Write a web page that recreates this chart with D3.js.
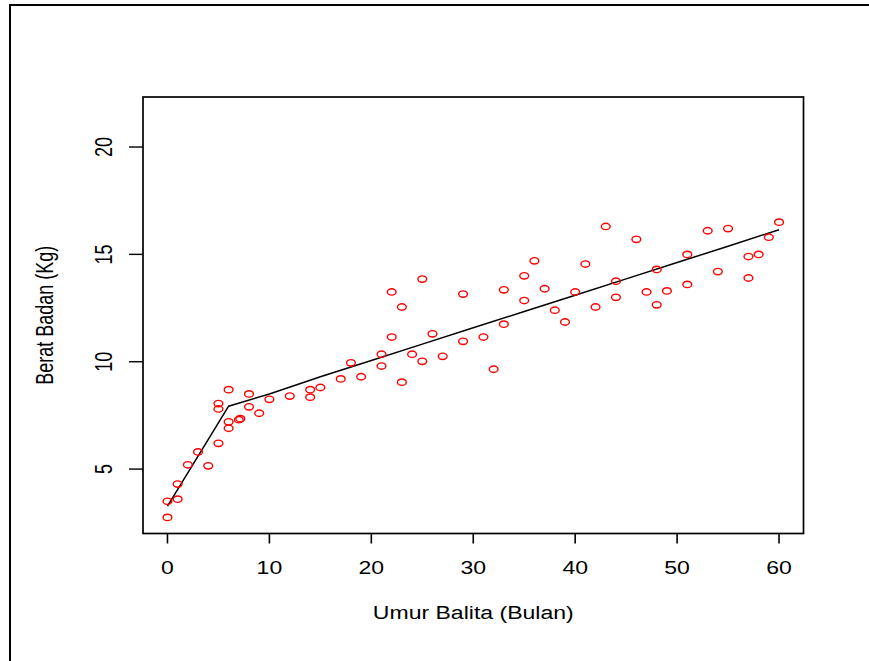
<!DOCTYPE html>
<html>
<head>
<meta charset="utf-8">
<script src="https://cdn.jsdelivr.net/npm/d3@7"></script>
<style>
  body { margin: 0; background: #fff; }
  text { font-family: "Liberation Sans", Arial, sans-serif; }
</style>
</head>
<body>
<div id="chart"></div>
<script>
// umur (bulan) dan berat badan (kg) tiap balita
var umur = [0, 0, 1, 1, 2, 3, 4, 5, 5, 5, 6, 6, 6, 7, 7.15, 8, 8, 9, 10, 12,
            14, 14, 15, 17, 18, 19, 21, 21, 22, 22, 23, 23, 24, 25, 25, 26, 27, 29, 29, 31,
            32, 33, 33, 35, 35, 36, 37, 38, 39, 40, 41, 42, 43, 44, 44, 46, 47, 48, 48, 49,
            51, 51, 53, 54, 55, 57, 57, 58, 59, 60];
var berat = [2.75, 3.5, 3.6, 4.3, 5.2, 5.8, 5.15, 6.2, 8.05, 7.8, 8.7, 7.2, 6.9, 7.3, 7.35, 8.5, 7.9, 7.6, 8.25, 8.4,
             8.7, 8.35, 8.8, 9.2, 9.95, 9.3, 10.35, 9.8, 13.25, 11.15, 12.55, 9.05, 10.35, 13.85, 10.02, 11.3, 10.25, 13.15, 10.95, 11.15,
             9.65, 13.35, 11.75, 14.0, 12.85, 14.7, 13.4, 12.4, 11.85, 13.25, 14.55, 12.55, 16.3, 13.75, 13.0, 15.7, 13.25, 14.3, 12.65, 13.3,
             15.0, 13.6, 16.1, 14.2, 16.2, 14.9, 13.9, 15.0, 15.8, 16.5];

// garis pemulusan
var garisX = [0, 6, 10, 15, 20, 25, 30, 35, 40, 45, 50, 55, 60];
var garisY = [3.28, 7.93, 8.5, 9.3, 10.06, 10.82, 11.58, 12.34, 13.1, 13.86, 14.62, 15.38, 16.15];

var xTicks = [0, 10, 20, 30, 40, 50, 60];
var yTicks = [5, 10, 15, 20];

var w = 869, h = 661;
var box = { left: 143, right: 803.5, top: 97, bottom: 533.5 };
var sx = 1.28;  // gambar asli melebar ke samping

var svg = d3.select("#chart").append("svg")
    .attr("width", w)
    .attr("height", h);

// bingkai luar
svg.append("path")
    .attr("d", "M10,661 L10,5 L869,5")
    .attr("fill", "none")
    .attr("stroke", "#000")
    .attr("stroke-width", 2);

var xScale = d3.scaleLinear().domain([-2.4, 62.4]).range([box.left, box.right]);
var yScale = d3.scaleLinear().domain([2.0, 22.33]).range([box.bottom, box.top]);

// kotak plot
svg.append("rect")
    .attr("x", box.left)
    .attr("y", box.top)
    .attr("width", box.right - box.left)
    .attr("height", box.bottom - box.top)
    .attr("fill", "none")
    .attr("stroke", "#000")
    .attr("stroke-width", 1.7);

// sumbu x
svg.selectAll("line.xt").data(xTicks).enter().append("line")
    .attr("class", "xt")
    .attr("x1", function(d) { return xScale(d); })
    .attr("x2", function(d) { return xScale(d); })
    .attr("y1", box.bottom)
    .attr("y2", box.bottom + 10)
    .attr("stroke", "#000")
    .attr("stroke-width", 1.6);

svg.selectAll("text.xl").data(xTicks).enter().append("text")
    .attr("class", "xl")
    .attr("transform", function(d) { return "translate(" + xScale(d) + ",574) scale(" + sx + ",1)"; })
    .attr("text-anchor", "middle")
    .attr("font-size", 18)
    .text(function(d) { return d; });

// sumbu y
svg.selectAll("line.yt").data(yTicks).enter().append("line")
    .attr("class", "yt")
    .attr("x1", box.left)
    .attr("x2", box.left - 14)
    .attr("y1", function(d) { return yScale(d); })
    .attr("y2", function(d) { return yScale(d); })
    .attr("stroke", "#000")
    .attr("stroke-width", 1.4);

svg.selectAll("text.yl").data(yTicks).enter().append("text")
    .attr("class", "yl")
    .attr("transform", function(d) { return "translate(112," + yScale(d) + ") scale(" + sx + ",1) rotate(-90)"; })
    .attr("text-anchor", "middle")
    .attr("font-size", 18)
    .text(function(d) { return d; });

// judul sumbu
svg.append("text")
    .attr("transform", "translate(" + ((box.left + box.right) / 2) + ",619) scale(" + sx + ",1)")
    .attr("text-anchor", "middle")
    .attr("font-size", 18)
    .text("Umur Balita (Bulan)");

svg.append("text")
    .attr("transform", "translate(53," + ((box.top + box.bottom) / 2) + ") scale(" + sx + ",1) rotate(-90)")
    .attr("text-anchor", "middle")
    .attr("font-size", 18)
    .text("Berat Badan (Kg)");

// garis
var line = d3.line()
    .x(function(d) { return xScale(d[0]); })
    .y(function(d) { return yScale(d[1]); });

svg.append("path")
    .datum(d3.zip(garisX, garisY))
    .attr("d", line)
    .attr("fill", "none")
    .attr("stroke", "#000")
    .attr("stroke-width", 1.5);

// titik
svg.selectAll("ellipse.pt").data(d3.zip(umur, berat)).enter().append("ellipse")
    .attr("class", "pt")
    .attr("cx", function(d) { return xScale(d[0]); })
    .attr("cy", function(d) { return yScale(d[1]); })
    .attr("rx", 4.4)
    .attr("ry", 3.2)
    .attr("fill", "none")
    .attr("stroke", "#ff0000")
    .attr("stroke-width", 1.4);
</script>
</body>
</html>
